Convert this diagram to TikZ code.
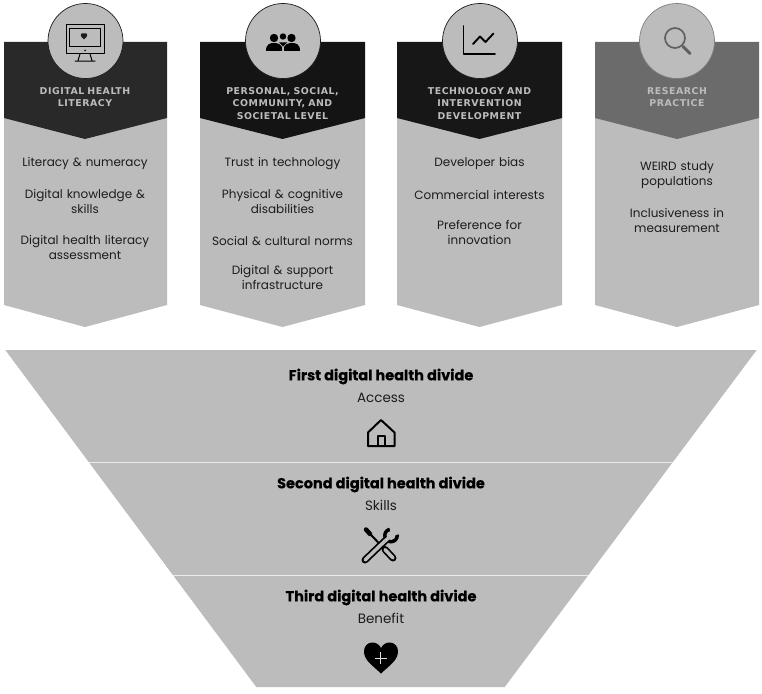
\documentclass[tikz,border=0pt]{standalone}
\usepackage{fontspec}
\setmainfont{Poppins}
\newfontfamily\headfont[LetterSpace=5.5]{DejaVu Sans}
\newfontfamily\titlefont[BoldFeatures={FakeBold=0.35}]{Poppins}
\definecolor{panel}{HTML}{BCBCBC}
\definecolor{ink}{HTML}{1C1C1C}
\tikzset{
  itemtext/.style={align=center,text=ink,font=\fontsize{12}{15}\selectfont,inner sep=0pt,text width=160pt,yshift=-0.8pt},
  headtext/.style={align=center,text=panel,font=\headfont\bfseries\fontsize{9.4}{12.6}\selectfont,inner sep=0pt,text width=164pt},
  disc/.style={circle,fill=panel,draw=ink,line width=0.7pt,minimum size=75pt,inner sep=0pt},
  divtitle/.style={text=black,font=\titlefont\bfseries\fontsize{14.5}{15}\selectfont,inner sep=0pt},
  divsub/.style={text=ink,font=\fontsize{13.5}{15}\selectfont,inner sep=0pt},
  icon/.style={draw=black,line width=1.3pt,line join=round,line cap=round,fill=none},
}
\newcommand{\column}[4]{%
  \fill[panel] (#1,118) -- (#1,305) -- (#2,327) -- (#3,305) -- (#3,118) -- cycle;
  \fill[#4] (#1,42) -- (#1,118) -- (#2,139) -- (#3,118) -- (#3,42) -- cycle;
}
\begin{document}
\begin{tikzpicture}[x=1pt,y=-1pt]
\useasboundingbox (0,0) rectangle (762,693);
\fill[white] (0,0) rectangle (762,693);
% columns
\column{4}{85}{167}{black!84}
\column{200}{282.5}{365}{black!92}
\column{397}{479.5}{562}{black!91}
\column{595}{677}{759}{black!58}
% discs
\node[disc] (d1) at (85.5,41) {};
\node[disc] (d2) at (283,41) {};
\node[disc] (d3) at (480,41) {};
\node[disc,draw=black!50] (d4) at (677,41) {};
% monitor icon
\draw[icon,line width=1pt] (66,25) rectangle (104,54);
\draw[icon,line width=.8pt] (69.5,28) rectangle (100.5,46);
\fill[ink] (85,50.5) circle (1pt);
\draw[icon,line width=1pt] (80,54) -- (78,60.5) (90,54) -- (92,60.5) (75,61) -- (95,61);
\fill[ink] (84,39.5) .. controls (79,36) and (80.5,32) .. (84,33.5) .. controls (87.5,32) and (89,36) .. (84,39.5) -- cycle;
% people icon
\fill[black] (274,38) circle (4.2pt) (283,36.5) circle (3.2pt) (291.5,38) circle (4.2pt);
\fill[black] (266,51) .. controls (266,44) and (270,43) .. (274,43) .. controls (278,43) and (281,44.5) .. (282,47) -- (282,51) -- cycle;
\fill[black] (300,51) .. controls (300,44) and (296,43) .. (292,43) .. controls (288,43) and (285,44.5) .. (284,47) -- (284,51) -- cycle;
\fill[black] (279,42.5) -- (287,42.5) -- (283,46.5) -- cycle;
% chart icon
\draw[icon,line width=1.9pt] (463.5,26) -- (463.5,54) -- (495,54);
\draw[icon,line width=1.9pt] (473,44) -- (480,36.5) -- (485.5,42) -- (493.5,33.5);
% magnifier icon
\draw[draw=black!62,line width=1.7pt] (675,38) circle (10pt);
\draw[draw=black!62,line width=3pt,line cap=round] (683,46.5) -- (690,53.5);
% header texts
\node[headtext] (h1) at (85,97) {DIGITAL HEALTH\\LITERACY};
\node[headtext] (h2) at (282.5,103.5) {PERSONAL, SOCIAL,\\COMMUNITY, AND\\SOCIETAL LEVEL};
\node[headtext] (h3) at (479.5,103.5) {TECHNOLOGY AND\\INTERVENTION\\DEVELOPMENT};
\node[headtext] (h4) at (677,97) {RESEARCH\\PRACTICE};
% column 1
\node[itemtext] (a1) at (85,163) {Literacy \& numeracy};
\node[itemtext] (a2) at (85,201) {Digital knowledge \&\\skills};
\node[itemtext] (a3) at (85,247) {Digital health literacy\\assessment};
% column 2
\node[itemtext] (b1) at (282.5,163) {Trust in technology};
\node[itemtext] (b2) at (282.5,201) {Physical \& cognitive\\disabilities};
\node[itemtext] (b3) at (282.5,240) {Social \& cultural norms};
\node[itemtext] (b4) at (282.5,277) {Digital \& support\\infrastructure};
% column 3
\node[itemtext] (c1) at (479.5,163) {Developer bias};
\node[itemtext] (c2) at (479.5,194) {Commercial interests};
\node[itemtext] (c3) at (479.5,231.5) {Preference for\\innovation};
% column 4
\node[itemtext] (e1) at (677,174) {WEIRD study\\populations};
\node[itemtext] (e2) at (677,220) {Inclusiveness in\\measurement};
% funnel
\fill[panel] (5,350) -- (757,350) -- (505,687) -- (256,687) -- cycle;
\draw[white!92!black,line width=1.2pt] (85,462.7) -- (677,462.7);
\draw[white!92!black,line width=1.2pt] (170,575.7) -- (592,575.7);
\fill[white] (0,350) -- (5,350) -- (256,687) -- (0,687) -- cycle;
\fill[white] (762,350) -- (757,350) -- (505,687) -- (762,687) -- cycle;
% funnel texts
\node[divtitle] (f1) at (381,376.5) {First digital health divide};
\node[divsub] (f1s) at (381,398) {Access};
\node[divtitle] (f2) at (381,484.5) {Second digital health divide};
\node[divsub] (f2s) at (381,505.5) {Skills};
\node[divtitle] (f3) at (381,597.5) {Third digital health divide};
\node[divsub] (f3s) at (381,618) {Benefit};
% house
\draw[icon,line width=2pt] (368,446) -- (368,432.5) -- (381,420) -- (394.5,432.5) -- (394.5,446) -- cycle;
\draw[icon,line width=2pt] (378,446) -- (378,436) -- (385,436) -- (385,446);
% tools: screwdriver
\draw[black,line width=2pt,line cap=round] (366,529.5) -- (382,546.5);
\draw[black,line width=4.5pt,line cap=round] (366,529.5) -- (370,534);
\draw[black,line width=7pt,line cap=round] (385,549.5) -- (393,558);
\draw[panel,line width=3.5pt,line cap=round] (385,549.5) -- (393,558);
% tools: wrench
\draw[black,line width=7pt,line cap=round] (365,560) -- (387,539);
\draw[panel,line width=3.5pt,line cap=round] (365,560) -- (387,539);
\fill[black] (391,535.5) circle (8pt);
\fill[panel] (391,535.5) circle (4.5pt);
\fill[panel] (391,535.5) -- (389,525) -- (402,525) -- (402,534) -- cycle;
\draw[panel,line width=3.5pt] (385,541) -- (389,537.5);
% heart
\fill[black] (381,673.5) .. controls (372,665) and (364,660) .. (364,651.5) .. controls (364,641) and (377,639.5) .. (381,648) .. controls (385,639.5) and (398,641) .. (398,651.5) .. controls (398,660) and (390,665) .. (381,673.5) -- cycle;
\draw[panel!50!white,line width=1pt] (374.5,658) -- (387,658) (380.7,652) -- (380.7,664);
\end{tikzpicture}
\end{document}
